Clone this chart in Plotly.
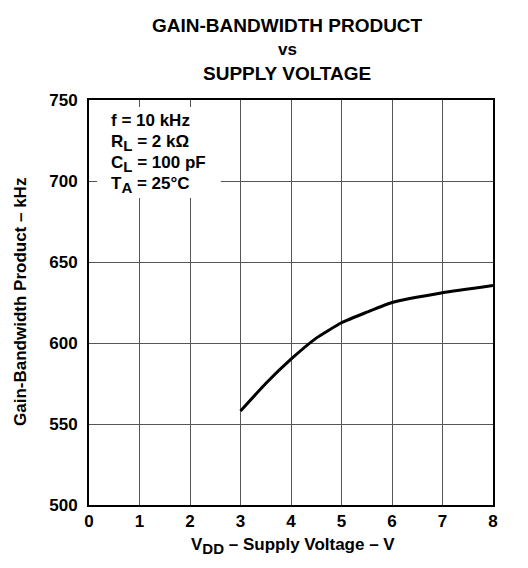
import plotly.graph_objects as go

# supply voltage (V) and gain-bandwidth product (kHz)
vdd = [3, 3.5, 4, 4.5, 5, 5.5, 6, 7, 8]
gbw = [558, 575, 590, 603, 612.5, 619, 625, 631, 635.5]

x_ticks = [0, 1, 2, 3, 4, 5, 6, 7, 8]
y_ticks = [500, 550, 600, 650, 700, 750]

def sub(s):
    return '<sub><span style="font-size:15px">' + s + '</span></sub>'

conditions = ['f = 10 kHz', 'R' + sub('L') + ' = 2 kΩ', 'C' + sub('L') + ' = 100 pF',
              'T' + sub('A') + ' = 25°C']

FONT = 'Liberation Sans, Arial, sans-serif'

def bold(size):
    return dict(family=FONT, size=size, color='black', weight='bold')

fig = go.Figure()
fig.add_trace(go.Scatter(x=vdd, y=gbw, mode='lines',
                         line=dict(color='black', width=3, shape='spline', smoothing=0.5),
                         showlegend=False, hoverinfo='skip'))

axis_common = dict(showgrid=True, gridcolor='#555555', gridwidth=1,
                   showline=True, linecolor='black', linewidth=2, mirror=True,
                   zeroline=False, ticks='', tickfont=bold(17))

fig.update_xaxes(range=[0, 8], tickvals=x_ticks, ticklabelstandoff=0, **axis_common)
fig.update_yaxes(range=[500, 750], tickvals=y_ticks, ticklabelstandoff=6, **axis_common)

# white box behind the test conditions
fig.add_shape(type='rect', xref='x', yref='y', x0=0.16, x1=2.61, y0=689.5, y1=745.7,
              fillcolor='white', line=dict(width=0), layer='above')

cond_y = [737.3, 723.6, 710.6, 697.7]
for txt, yy in zip(conditions, cond_y):
    fig.add_annotation(x=0.39, y=yy, xref='x', yref='y', text=txt,
                       showarrow=False, xanchor='left', yanchor='middle', font=bold(17))

# page is drawn with an 8px body margin, so the figure is 8px smaller
W, H = 520, 560
L, R, T, B = 81, 35, 92, 63
pw, ph = W - L - R, H - T - B

def px(x, y):
    return (x - L) / pw, (H - B - y) / ph

for txt, x, y, size in [('GAIN-BANDWIDTH PRODUCT', 279, 17, 19),
                        ('vs', 279, 42, 17),
                        ('SUPPLY VOLTAGE', 279, 65, 19),
                        ('V' + sub('DD') + ' – Supply Voltage – V', 285, 538, 17)]:
    ax, ay = px(x, y)
    fig.add_annotation(x=ax, y=ay, xref='paper', yref='paper', text=txt, showarrow=False,
                       xanchor='center', yanchor='middle', font=bold(size))

ax, ay = px(12, 294)
fig.add_annotation(x=ax, y=ay, xref='paper', yref='paper',
                   text='Gain-Bandwidth Product – kHz', textangle=-90, showarrow=False,
                   xanchor='center', yanchor='middle', font=bold(17))

fig.update_layout(width=W, height=H, margin=dict(l=L, r=R, t=T, b=B),
                  plot_bgcolor='white', paper_bgcolor='white')

fig.write_html('out.html')
